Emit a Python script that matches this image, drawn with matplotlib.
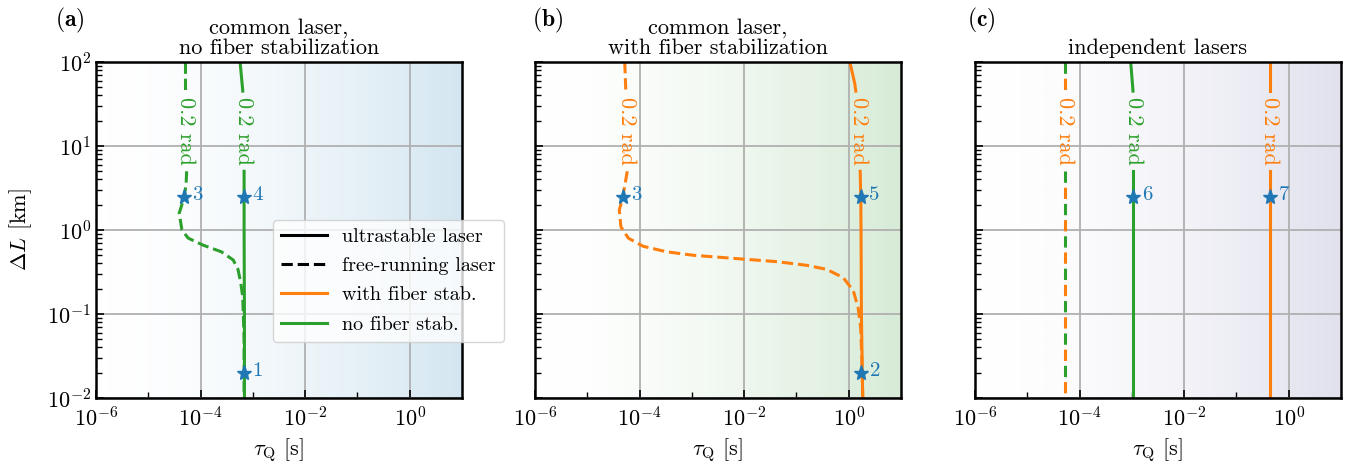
import numpy as np
import matplotlib
matplotlib.use("Agg")
import matplotlib.pyplot as plt
from matplotlib.colors import LinearSegmentedColormap
from matplotlib.lines import Line2D

plt.rcParams.update({
    "font.family": "serif",
    "font.serif": ["cmr10"],
    "mathtext.fontset": "cm",
    "axes.formatter.use_mathtext": True,
    "font.size": 16,
})

ORANGE = "#ff7f0e"
GREEN = "#2ca02c"
BLUE = "#1f77b4"

# --------------------------------------------------------------------------------
# Data
# --------------------------------------------------------------------------------
# (a) common laser, no fiber stabilization
a_solid_dL = [100, 46, 20, 10, 5, 2.5, 1.0, 0.1, 0.01]
a_solid_tau = [5.7e-4, 6.4e-4, 6.6e-4, 6.7e-4, 6.8e-4, 6.8e-4, 6.8e-4, 6.9e-4, 6.9e-4]
a_dash_dL = [100, 40, 10, 4.8, 3.6, 2.5, 1.58, 1.0, 0.80, 0.66, 0.55, 0.44, 0.34,
             0.23, 0.16, 0.05, 0.01]
a_dash_tau = [5.0e-5, 5.0e-5, 5.2e-5, 5.4e-5, 5.3e-5, 4.9e-5, 3.9e-5, 4.4e-5, 5.8e-5,
              1.12e-4, 2.5e-4, 4.2e-4, 5.2e-4, 5.9e-4, 6.4e-4, 6.8e-4, 6.8e-4]

# (b) common laser, with fiber stabilization
b_solid_dL = [100, 56, 30, 10, 5.6, 2.5, 1.0, 0.1, 0.01]
b_solid_tau = [1.05, 1.3, 1.5, 1.6, 1.65, 1.7, 1.72, 1.75, 1.85]
b_dash_dL = [100, 40, 5.6, 2.5, 1.73, 1.09, 0.80, 0.64, 0.55, 0.50, 0.46, 0.42,
             0.38, 0.34, 0.27, 0.19, 0.12, 0.07, 0.03, 0.01]
b_dash_tau = [5.2e-5, 5.5e-5, 6.0e-5, 4.8e-5, 4.1e-5, 4.4e-5, 6.1e-5, 1.17e-4,
              3.3e-4, 1.07e-3, 6.2e-3, 4.2e-2, 0.157, 0.38, 0.79, 1.22, 1.51,
              1.69, 1.78, 1.86]

# (c) independent lasers
c_dL = [100, 46, 10, 1.0, 0.1, 0.01]
c_green_solid_tau = [9.5e-4, 1.05e-3, 1.07e-3, 1.07e-3, 1.07e-3, 1.07e-3]
c_orange_solid_tau = [0.44, 0.44, 0.44, 0.44, 0.44, 0.44]
c_dash_tau = [5.2e-5, 5.2e-5, 5.2e-5, 5.2e-5, 5.2e-5, 5.2e-5]

# marked configurations: (tau, dL, label)
a_stars = [(6.8e-4, 0.02, "1"), (4.8e-5, 2.5, "3"), (6.8e-4, 2.5, "4")]
b_stars = [(1.75, 0.02, "2"), (4.8e-5, 2.5, "3"), (1.7, 2.5, "5")]
c_stars = [(1.07e-3, 2.5, "6"), (0.44, 2.5, "7")]

titles = ["common laser,\nno fiber stabilization",
          "common laser,\nwith fiber stabilization",
          "independent lasers"]
panel_tags = [r"$\mathbf{(a)}$", r"$\mathbf{(b)}$", r"$\mathbf{(c)}$"]
bg_colors = ["#d4e6f1", "#d7ebd7", "#e1e1ee"]

LABEL_DL = 15.0
GAP = (5.0, 45.0)


def contour_line(ax, tau, dL, color, ls, dash_offset=None, label=True, z=3):
    tau = np.asarray(tau, float)
    dL = np.asarray(dL, float)
    # break the line where the contour label sits
    t_lo = np.interp(np.log10(GAP[0]), np.log10(dL[::-1]), np.log10(tau[::-1]))
    t_hi = np.interp(np.log10(GAP[1]), np.log10(dL[::-1]), np.log10(tau[::-1]))
    upper = dL >= GAP[1]
    lower = dL <= GAP[0]
    segs = [(np.r_[tau[upper], 10 ** t_hi], np.r_[dL[upper], GAP[1]]),
            (np.r_[10 ** t_lo, tau[lower]], np.r_[GAP[0], dL[lower]])]
    for x, y in segs:
        if ls == "--" and dash_offset is not None:
            # alternating dashes for two overlapping curves
            ax.plot(x, y, color=color, lw=2.2, ls=(dash_offset, (3.7, 6.9)), zorder=z)
        elif ls == "--":
            ax.plot(x, y, color=color, lw=2.2, ls=(0, (3.7, 1.6)), zorder=z)
        else:
            ax.plot(x, y, color=color, lw=2.2, ls="-", zorder=z)
    if label:
        tx = 10 ** np.interp(np.log10(LABEL_DL), np.log10(dL[::-1]), np.log10(tau[::-1]))
        ax.text(tx, LABEL_DL, "0.2 rad", color=color, rotation=-90,
                ha="center", va="center", fontsize=16, zorder=4)


def add_stars(ax, stars):
    for x, y, s in stars:
        ax.plot(x, y, marker="*", color=BLUE, ms=11, ls="none", zorder=5)
        ax.annotate(s, (x, y), xytext=(6, 1), textcoords="offset points",
                    color=BLUE, fontsize=15, va="center", ha="left", zorder=5)


fig = plt.figure(figsize=(13.46, 4.65), dpi=100)
lefts = [96, 535, 975]
axes = []
for i, left in enumerate(lefts):
    ax = fig.add_axes([left / 1346, 67 / 465, 366 / 1346, 336 / 465])
    axes.append(ax)
    cmap = LinearSegmentedColormap.from_list("bg", ["#ffffff", bg_colors[i]])
    grad = np.linspace(0, 1, 256) ** 1.6
    ax.imshow(grad.reshape(1, -1), extent=[0, 1, 0, 1], transform=ax.transAxes,
              aspect="auto", cmap=cmap, vmin=0, vmax=1, zorder=0)
    ax.set_xscale("log")
    ax.set_yscale("log")
    ax.set_xlim(1e-6, 1e1)
    ax.set_ylim(1e-2, 1e2)
    ax.set_xticks([1e-6, 1e-4, 1e-2, 1e0])
    ax.set_xticks([1e-5, 1e-3, 1e-1], minor=True)
    ax.set_xticklabels([], minor=True)
    ax.grid(True, which="major", color="#b0b0b0", lw=1.3, zorder=1)
    ax.set_axisbelow(False)
    ax.tick_params(which="both", direction="in", top=False, right=False)
    ax.tick_params(which="major", length=6, width=1.2, labelsize=16)
    ax.tick_params(which="minor", length=4, width=1.0)
    ax.tick_params(axis="x", which="major", pad=6)
    for sp in ax.spines.values():
        sp.set_linewidth(1.8)
        sp.set_zorder(6)
    ax.set_title(titles[i], fontsize=16, pad=6, linespacing=1.0)
    ax.set_xlabel(r"$\tau_\mathrm{Q}$ [s]", fontsize=16)
    if i > 0:
        ax.set_yticklabels([])

tag_x = [55, 532, 967]
for tag, x in zip(panel_tags, tag_x):
    fig.text(x / 1346, 1 - 20 / 465, tag, fontsize=17, ha="left", va="center")

axes[0].set_ylabel(r"$\Delta L$ [km]", fontsize=16)
axes[0].yaxis.set_label_coords(-0.17, 0.5)

# (a)
contour_line(axes[0], a_dash_tau, a_dash_dL, GREEN, "--")
contour_line(axes[0], a_solid_tau, a_solid_dL, GREEN, "-")
add_stars(axes[0], a_stars)

# (b)
contour_line(axes[1], b_dash_tau, b_dash_dL, ORANGE, "--")
contour_line(axes[1], b_solid_tau, b_solid_dL, ORANGE, "-")
add_stars(axes[1], b_stars)

# (c)
contour_line(axes[2], c_dash_tau, c_dL, ORANGE, "--", dash_offset=5.3)
contour_line(axes[2], c_dash_tau, c_dL, GREEN, "--", dash_offset=0, label=False, z=3.2)
contour_line(axes[2], c_green_solid_tau, c_dL, GREEN, "-")
contour_line(axes[2], c_orange_solid_tau, c_dL, ORANGE, "-")
add_stars(axes[2], c_stars)

handles = [Line2D([], [], color="k", lw=2.2, ls="-"),
           Line2D([], [], color="k", lw=2.2, ls="--"),
           Line2D([], [], color=ORANGE, lw=2.2, ls="-"),
           Line2D([], [], color=GREEN, lw=2.2, ls="-")]
labels = ["ultrastable laser", "free-running laser", "with fiber stab.", "no fiber stab."]
leg = axes[0].legend(handles, labels, loc="upper left",
                     bbox_to_anchor=(273 / 1346, 1 - 220 / 465),
                     bbox_transform=fig.transFigure, fontsize=14.5,
                     borderaxespad=0, handlelength=2.3, handletextpad=0.75,
                     framealpha=0.8, edgecolor="#cccccc",
                     borderpad=0.4, labelspacing=0.55)
leg.set_zorder(10)

fig.savefig("out.png", dpi=100)
